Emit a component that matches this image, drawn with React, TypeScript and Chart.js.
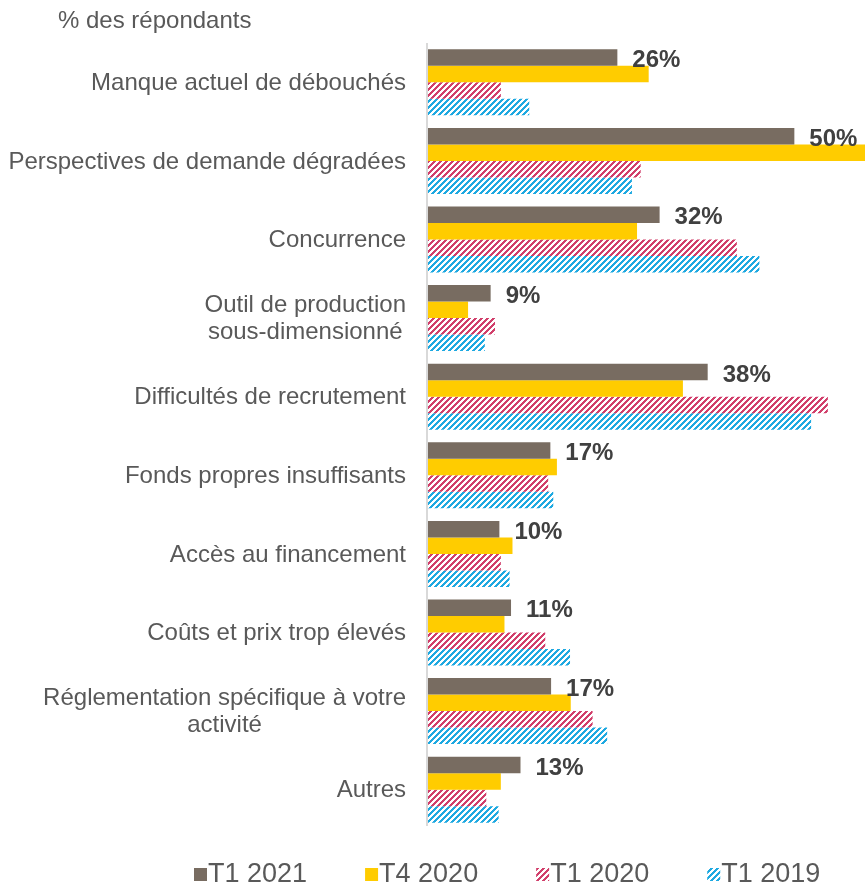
import React, { useEffect, useRef } from "react";
import { Chart, registerables } from "chart.js";

Chart.register(...registerables);

const FONT = '"Liberation Sans", Arial, Helvetica, sans-serif';

const axisTitle = "% des répondants";

const categories: string[][] = [
  ["Manque actuel de débouchés"],
  ["Perspectives de demande dégradées"],
  ["Concurrence"],
  ["Outil de production", "sous-dimensionné"],
  ["Difficultés de recrutement"],
  ["Fonds propres insuffisants"],
  ["Accès au financement"],
  ["Coûts et prix trop élevés"],
  ["Réglementation spécifique à votre", "activité"],
  ["Autres"],
];

const seriesNames = ["T1 2021", "T4 2020", "T1 2020", "T1 2019"];

const t1_2021 = [26, 50.3, 31.8, 8.6, 38.4, 16.8, 9.8, 11.4, 16.9, 12.7];
const t4_2020 = [30.3, 62, 28.7, 5.5, 35, 17.7, 11.6, 10.5, 19.6, 10];
const t1_2020 = [10, 29.2, 42.4, 9.2, 54.9, 16.5, 10, 16.1, 22.6, 8];
const t1_2019 = [13.9, 28, 45.5, 7.8, 52.6, 17.2, 11.2, 19.5, 24.6, 9.7];

const xMax = 60;

function makeHatch(color: string): CanvasPattern | string {
  const c = document.createElement("canvas");
  const n = 6;
  c.width = n;
  c.height = n;
  const g = c.getContext("2d");
  if (!g) return color;
  g.fillStyle = "#ffffff";
  g.fillRect(0, 0, n, n);
  g.fillStyle = color;
  for (let y = 0; y < n; y++) {
    for (let x = 0; x < n; x++) {
      if ((x + y) % n < 3) g.fillRect(x, y, 1, 1);
    }
  }
  const p = g.createPattern(c, "repeat");
  return p || color;
}

const overlay = {
  id: "overlay",
  beforeDatasetsDraw(chart: any) {
    const { ctx, chartArea, scales } = chart;
    const x0 = scales.x.getPixelForValue(0);
    ctx.save();
    ctx.strokeStyle = "#d9d9d9";
    ctx.lineWidth = 2;
    ctx.beginPath();
    ctx.moveTo(x0 - 1, chartArea.top);
    ctx.lineTo(x0 - 1, chartArea.bottom - 3);
    ctx.stroke();
    ctx.restore();
  },
  afterDatasetsDraw(chart: any) {
    const { ctx, scales } = chart;
    ctx.save();
    // value labels for first series
    const meta = chart.getDatasetMeta(0);
    ctx.font = `bold 24px ${FONT}`;
    ctx.fillStyle = "#404040";
    ctx.textAlign = "left";
    ctx.textBaseline = "middle";
    meta.data.forEach((el: any, i: number) => {
      ctx.fillText(Math.round(t1_2021[i]) + "%", el.x + 15, el.y + 3);
    });

    // category labels
    ctx.font = `24px ${FONT}`;
    ctx.fillStyle = "#595959";
    ctx.textAlign = "center";
    categories.forEach((lines, i) => {
      const yc = scales.y.getPixelForValue(i);
      const w = Math.max(...lines.map((l) => ctx.measureText(l).width));
      const cx = 406 - w / 2;
      lines.forEach((l, j) => {
        ctx.fillText(l, cx, yc + 1 + (j - (lines.length - 1) / 2) * 27);
      });
    });

    // axis title
    ctx.textAlign = "left";
    ctx.fillText(axisTitle, 58, 21);

    // legend
    ctx.font = `27px ${FONT}`;
    let x = 194;
    chart.data.datasets.forEach((ds: any) => {
      ctx.fillStyle = ds.backgroundColor;
      ctx.fillRect(x, 868, 13, 13);
      ctx.fillStyle = "#595959";
      ctx.fillText(ds.label, x + 14, 875);
      x += 14 + ctx.measureText(ds.label).width + 58;
    });
    ctx.restore();
  },
};

export default function App() {
  const ref = useRef<HTMLCanvasElement | null>(null);
  useEffect(() => {
    if (!ref.current) return;
    const pink = makeHatch("#d13f6b");
    const blue = makeHatch("#1ea9e1");
    const chart = new Chart(ref.current, {
      type: "bar",
      data: {
        labels: categories.map((c) => c.join(" ")),
        datasets: [
          { label: seriesNames[0], data: t1_2021, backgroundColor: "#786c61" },
          { label: seriesNames[1], data: t4_2020, backgroundColor: "#ffcc00" },
          { label: seriesNames[2], data: t1_2020, backgroundColor: pink as any },
          { label: seriesNames[3], data: t1_2019, backgroundColor: blue as any },
        ],
      },
      options: {
        indexAxis: "y",
        responsive: false,
        animation: false,
        events: [],
        devicePixelRatio: 1,
        layout: { padding: { left: 428, right: 0, top: 43, bottom: 57 } },
        datasets: {
          bar: { categoryPercentage: 0.84, barPercentage: 1, borderWidth: 0 },
        },
        scales: {
          x: { display: false, min: 0, max: xMax },
          y: { display: false },
        },
        plugins: {
          legend: { display: false },
          tooltip: { enabled: false },
          title: { display: false },
        },
      },
      plugins: [overlay],
    });
    return () => chart.destroy();
  }, []);
  return (
    <div style={{ position: "absolute", left: 0, top: 0, width: 865, height: 886, background: "#fff" }}>
      <canvas ref={ref} width={865} height={886} style={{ display: "block" }} />
    </div>
  );
}
